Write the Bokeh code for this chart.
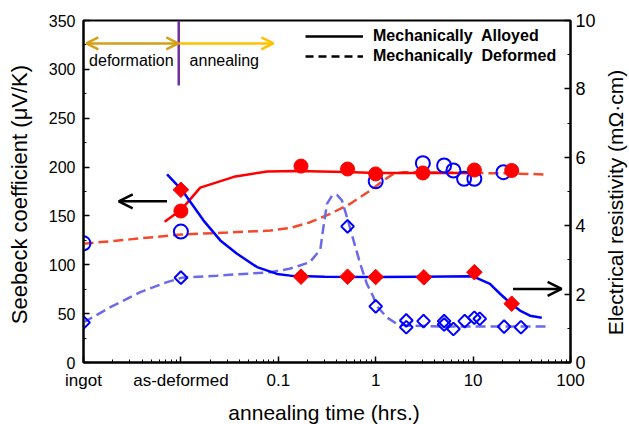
import math
from bokeh.plotting import figure
from bokeh.models import (Range1d, LinearAxis, FixedTicker, SingleIntervalTicker,
                          Arrow, OpenHead, Label, Legend, LegendItem)
from bokeh.embed import file_html
from bokeh.resources import INLINE

FONT = "Liberation Sans"

# ---------------- data ----------------
# x: annealing time in hours; "ingot" placed at 0.001, "as-deformed" at 0.01
x_tick_values = [0.001, 0.01, 0.1, 1, 10, 100]
x_tick_labels = ["ingot", "as-deformed", "0.1", "1", "10", "100"]

# Mechanically Alloyed - Seebeck (red filled circles, left axis)
ma_seebeck_t = [0.01, 0.171, 0.514, 1.0, 3.05, 10.3, 24.9]
ma_seebeck = [155, 201, 198, 193, 194, 197, 196.5]

# Mechanically Deformed - Seebeck (blue open circles, left axis)
md_seebeck_t = [0.001, 0.01, 1.0, 3.05, 5.04, 6.28, 8.08, 10.3, 20.5]
md_seebeck = [122, 134, 185.5, 204, 201.6, 196.5, 188, 188, 194.8]

# Mechanically Alloyed - resistivity (red diamonds, right axis)
ma_rho_t = [0.01, 0.171, 0.514, 1.0, 3.12, 10.3, 24.9]
ma_rho = [5.05, 2.51, 2.51, 2.50, 2.49, 2.64, 1.72]

# Mechanically Deformed - resistivity (blue open diamonds, right axis)
md_rho_t = [0.001, 0.01, 0.514, 1.0, 2.06, 2.06, 3.1, 5.04, 5.04, 6.28, 8.2, 10.3, 11.7, 20.8, 31]
md_rho = [1.17, 2.48, 3.98, 1.64, 1.23, 1.03, 1.21, 1.21, 1.11, 0.98, 1.21, 1.31, 1.28, 1.05, 1.03]

# trend curves
ma_seebeck_fit_t = [0.0068, 0.01, 0.0158, 0.035, 0.077, 0.15, 0.5, 1, 3, 10]
ma_seebeck_fit = [144, 156, 179, 190, 195.5, 196, 195, 194, 194, 194]

md_seebeck_fit_t = [0.001, 0.003, 0.01, 0.03, 0.0828, 0.133, 0.213, 0.341, 0.547, 0.879,
                    1.20, 1.52, 1.93, 3, 10, 25, 54.7]
md_seebeck_fit = [121.5, 126, 131, 133, 135, 137.8, 143.6, 152.2, 162.4, 176,
                  186.3, 193, 194.8, 194.5, 194, 193.5, 192.4]

ma_rho_fit_t = [0.00721, 0.0102, 0.0171, 0.0254, 0.0377, 0.0605, 0.097, 0.133, 0.3, 1, 3, 10,
                14.9, 18.9, 24.5, 30.3, 38.4, 50.7]
ma_rho_fit = [5.50, 5.05, 4.15, 3.57, 3.18, 2.79, 2.59, 2.54, 2.51, 2.50, 2.51, 2.52,
              2.30, 2.01, 1.72, 1.52, 1.37, 1.31]

md_rho_fit_t = [0.001, 0.00189, 0.00384, 0.00721, 0.0102, 0.0235, 0.083, 0.13, 0.21, 0.27,
                0.292, 0.316, 0.356, 0.400, 0.450, 0.507, 0.592, 0.693, 0.812, 0.949,
                1.03, 1.30, 1.65, 2.09, 5, 20, 59]
md_rho_fit = [1.17, 1.62, 2.06, 2.35, 2.48, 2.54, 2.64, 2.74, 2.93, 3.3,
              4.0, 4.64, 4.88, 4.90, 4.74, 4.25, 3.57, 2.89, 2.30, 1.91,
              1.65, 1.32, 1.13, 1.08, 1.05, 1.05, 1.05]

legend_labels = ["Mechanically  Alloyed", "Mechanically  Deformed"]
right_title = "Electrical resistivity  (mΩ·cm)"

# ---------------- figure ----------------
p = figure(x_axis_type="log", x_range=Range1d(0.001, 100), y_range=Range1d(0, 350),
           frame_width=487, frame_height=342, output_backend="svg", toolbar_location=None,
           min_border_left=83, min_border_right=59, min_border_top=20, min_border_bottom=62)
p.extra_y_ranges = {"rho": Range1d(0, 10)}
p.background_fill_color = "white"
p.border_fill_color = "white"
p.outline_line_color = "black"
p.outline_line_width = 2
p.xgrid.visible = False
p.ygrid.visible = False

minor = []
for d in [0.001, 0.01, 0.1, 1, 10]:
    for k in range(2, 10):
        minor.append(d * k)

xa = p.xaxis[0]
xa.ticker = FixedTicker(ticks=x_tick_values, minor_ticks=minor)
xa.major_label_overrides = {v: s for v, s in zip(x_tick_values, x_tick_labels)}
xa.axis_label = "annealing time  (hrs.)"

ya = p.yaxis[0]
ya.ticker = SingleIntervalTicker(interval=50, num_minor_ticks=2)
ya.axis_label = "Seebeck coefficient  (μV/K)"

ra = LinearAxis(y_range_name="rho", ticker=SingleIntervalTicker(interval=2, num_minor_ticks=2))
p.add_layout(ra, "right")

for ax in (xa, ya, ra):
    ax.axis_line_color = "black"
    ax.axis_line_width = 2
    ax.major_tick_in = 6
    ax.major_tick_out = 0
    ax.minor_tick_in = 3
    ax.minor_tick_out = 0
    ax.major_tick_line_width = 1.5
    ax.minor_tick_line_width = 1
    ax.major_tick_line_color = "black"
    ax.minor_tick_line_color = "black"
    ax.major_label_text_font = FONT
    ax.major_label_text_font_size = "16px"
    ax.major_label_text_color = "black"
    ax.axis_label_text_font = FONT
    ax.axis_label_text_font_size = "22px"
    ax.axis_label_text_font_style = "normal"
    ax.axis_label_text_color = "black"

xa.major_label_text_font_size = "17px"
xa.axis_label_text_font_size = "21px"
ra.major_label_text_font_size = "18px"
xa.major_label_standoff = 8
xa.axis_label_standoff = 8
ya.major_label_standoff = 8
ya.axis_label_standoff = 14
ra.major_label_standoff = 5

# right-hand title (reads bottom-to-top); carried by an outer axis without line or ticks
title_at = 0.8
ra2 = LinearAxis(y_range_name="rho", ticker=FixedTicker(ticks=[title_at], minor_ticks=[]),
                 major_label_overrides={title_at: right_title},
                 major_label_orientation=math.pi / 2,
                 axis_line_color=None, major_tick_line_color=None, minor_tick_line_color=None,
                 major_tick_in=0, major_tick_out=0, minor_tick_in=0, minor_tick_out=0,
                 major_label_standoff=17, major_label_text_font=FONT,
                 major_label_text_font_size="21px", major_label_text_color="black")
p.add_layout(ra2, "right")

RED = "#ff0000"
BLUE = "#0000ff"
RED_D = "#f24a2a"
BLUE_D = "#6b6bea"

# curves
p.line(md_seebeck_fit_t, md_seebeck_fit, line_color=RED_D, line_width=2.5, line_dash="10 5")
p.line(md_rho_fit_t, md_rho_fit, y_range_name="rho", line_color=BLUE_D, line_width=2.5,
       line_dash="10 5")
p.line(ma_seebeck_fit_t, ma_seebeck_fit, line_color=RED, line_width=2.5)
p.line(ma_rho_fit_t, ma_rho_fit, y_range_name="rho", line_color=BLUE, line_width=2.5)

# markers
p.scatter(md_seebeck_t, md_seebeck, marker="circle", size=14, fill_color=None,
          line_color=BLUE, line_width=2)
p.scatter(md_rho_t, md_rho, y_range_name="rho", marker="square", angle=math.pi / 4,
          size=9, fill_color=None, line_color=BLUE, line_width=2)
p.scatter(ma_seebeck_t, ma_seebeck, marker="circle", size=14, fill_color=RED, line_color=RED)
p.scatter(ma_rho_t, ma_rho, y_range_name="rho", marker="square", angle=math.pi / 4,
          size=11, fill_color=RED, line_color=RED)

# axis pointers
p.add_layout(Arrow(end=OpenHead(size=14, line_width=2.5, line_color="black"),
                   x_start=0.0072, y_start=165, x_end=0.0023, y_end=165,
                   line_width=2.5, line_color="black"))
p.add_layout(Arrow(end=OpenHead(size=14, line_width=2.5, line_color="black"),
                   x_start=25.7, y_start=2.15, x_end=81, y_end=2.15, y_range_name="rho",
                   line_width=2.5, line_color="black"))

# deformation / annealing annotation
p.segment(x0=[0.0095], y0=[350], x1=[0.0095], y1=[283.5], line_color="#7030a0", line_width=2.5)
p.add_layout(Arrow(start=OpenHead(size=12, line_width=2.5, line_color="#d4a017"),
                   end=OpenHead(size=12, line_width=2.5, line_color="#d4a017"),
                   x_start=0.00107, y_start=326.5, x_end=0.0094, y_end=326.5,
                   line_width=2.5, line_color="#d4a017"))
p.add_layout(Arrow(end=OpenHead(size=12, line_width=2.5, line_color="#ffc000"),
                   x_start=0.0096, y_start=326.5, x_end=0.089, y_end=326.5,
                   line_width=2.5, line_color="#ffc000"))
p.add_layout(Label(x=0.0031, y=309, text="deformation", text_align="center",
                   text_baseline="middle", text_font=FONT, text_font_size="16px",
                   text_color="black"))
p.add_layout(Label(x=0.0279, y=309, text="annealing", text_align="center",
                   text_baseline="middle", text_font=FONT, text_font_size="16px",
                   text_color="black"))

# legend (sample lines only; no data)
nan = float("nan")
r_solid = p.line([nan], [nan], line_color="black", line_width=2.5)
r_dash = p.line([nan], [nan], line_color="black", line_width=2.5, line_dash="8 5")
leg = Legend(items=[LegendItem(label=legend_labels[0], renderers=[r_solid]),
                    LegendItem(label=legend_labels[1], renderers=[r_dash])],
             location=(222, 297), glyph_width=58, glyph_height=18, spacing=2,
             padding=0, margin=0, label_standoff=10,
             label_text_font=FONT, label_text_font_size="16px",
             label_text_font_style="bold", label_text_color="black",
             border_line_color=None, background_fill_alpha=0)
p.add_layout(leg)

open("out.html", "w").write(file_html(p, INLINE))
